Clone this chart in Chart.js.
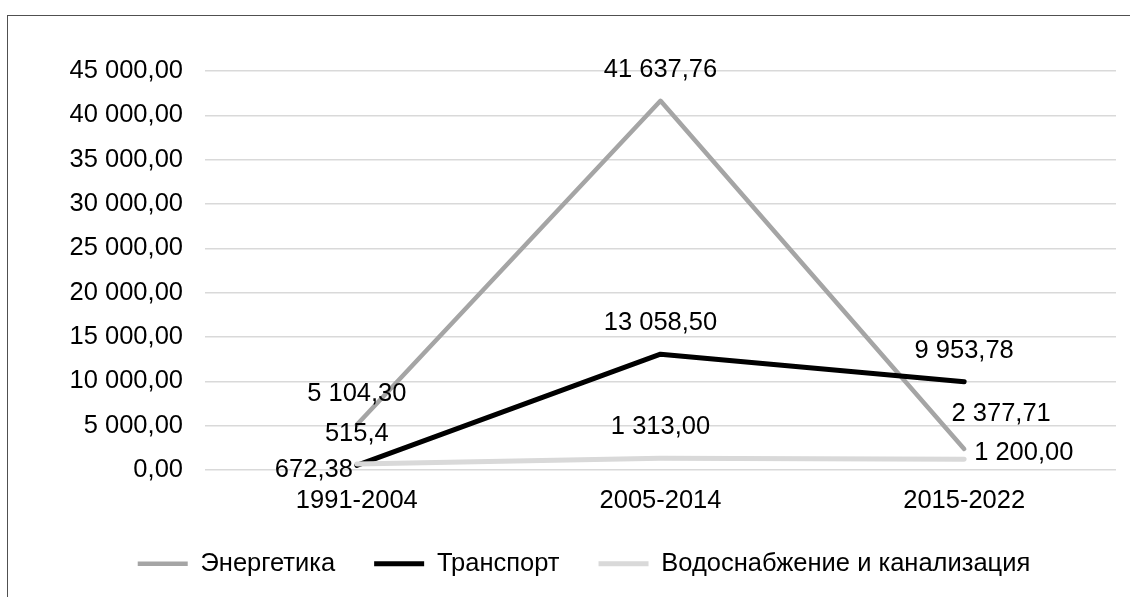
<!DOCTYPE html>
<html lang="ru">
<head>
<meta charset="UTF-8">
<title>Инвестиции по отраслям</title>
<script src="https://cdn.jsdelivr.net/npm/chart.js"></script>
<style>
    html, body {
        margin: 0;
        padding: 0;
        background: #ffffff;
        overflow: hidden;
    }
    /* outer frame of the chart, cut by the window on the right and bottom */
    .frame {
        position: absolute;
        left: 7px;
        top: 15px;
        width: 1200px;
        height: 700px;
        border: 1.5px solid #505050;
    }
    .wrap {
        position: absolute;
        left: 0;
        top: 0;
        width: 1130px;
        height: 597px;
    }
</style>
</head>
<body>
<div class="frame"></div>
<div class="wrap"><canvas id="chart"></canvas></div>

<script>
// data
const periods = ['1991-2004', '2005-2014', '2015-2022'];
const energyValues = [5104.30, 41637.76, 2377.71];
const transportValues = [515.4, 13058.50, 9953.78];
const waterValues = [672.38, 1313.00, 1200.00];
const seriesNames = ['Энергетика', 'Транспорт', 'Водоснабжение и канализация'];
const transportDecimals = [1, 2, 2];
const yMax = 45000;
const yStep = 5000;

const FONT = '"Liberation Sans", Arial, sans-serif';
const FONT_SIZE = 25.5;

function fmt(v, d) {
    const parts = v.toFixed(d).split('.');
    const intPart = parts[0].replace(/\B(?=(\d{3})+(?!\d))/g, ' ');
    return parts[1] ? intPart + ',' + parts[1] : intPart;
}

// where each data label sits relative to its point
const labelPlacement = [
    ['above', 'above', 'aboveRight'],
    ['above', 'above', 'above'],
    ['left', 'above', 'right']
];

const dataLabels = {
    id: 'dataLabels',
    afterDatasetsDraw(chart) {
        const ctx = chart.ctx;
        ctx.save();
        ctx.font = FONT_SIZE + 'px ' + FONT;
        ctx.fillStyle = '#000';
        ctx.textBaseline = 'middle';
        chart.data.datasets.forEach((ds, i) => {
            const meta = chart.getDatasetMeta(i);
            meta.data.forEach((pt, j) => {
                const dec = ds.decimals ? ds.decimals[j] : 2;
                const text = fmt(ds.data[j], dec);
                const place = labelPlacement[i][j];
                let x = pt.x, y = pt.y;
                if (place === 'above') {
                    ctx.textAlign = 'center'; y -= 31;
                } else if (place === 'aboveRight') {
                    ctx.textAlign = 'center'; x += 37; y -= 35;
                } else if (place === 'left') {
                    ctx.textAlign = 'right'; x -= 4; y += 6;
                } else {
                    ctx.textAlign = 'left'; x += 10; y -= 6;
                }
                ctx.fillText(text, x, y);
            });
        });
        ctx.restore();
    }
};

const ctx = document.getElementById('chart').getContext('2d');

new Chart(ctx, {
    type: 'line',
    data: {
        labels: periods,
        datasets: [
            {
                label: seriesNames[0],
                data: energyValues,
                borderColor: '#a5a5a5',
                backgroundColor: '#a5a5a5',
                borderWidth: 4.5,
                order: 3
            },
            {
                label: seriesNames[1],
                data: transportValues,
                decimals: transportDecimals,
                borderColor: '#000000',
                backgroundColor: '#000000',
                borderWidth: 5,
                order: 2
            },
            {
                label: seriesNames[2],
                data: waterValues,
                borderColor: '#d9d9d9',
                backgroundColor: '#d9d9d9',
                borderWidth: 5,
                order: 1
            }
        ]
    },
    options: {
        responsive: true,
        maintainAspectRatio: false,
        animation: false,
        datasets: {
            line: {
                pointRadius: 0,
                tension: 0,
                borderCapStyle: 'round',
                borderJoinStyle: 'round'
            }
        },
        layout: {
            padding: { left: 52, right: 14, top: 71, bottom: 10.5 }
        },
        scales: {
            x: {
                offset: true,
                grid: { display: false, drawTicks: false },
                border: { display: false },
                ticks: {
                    color: '#000',
                    padding: 16,
                    font: { family: FONT, size: FONT_SIZE }
                },
                afterFit(scale) { scale.height = 42; }
            },
            y: {
                min: 0,
                max: yMax,
                grid: { color: '#d9d9d9', lineWidth: 1.5, drawTicks: false },
                border: { display: false },
                ticks: {
                    stepSize: yStep,
                    color: '#000',
                    padding: 22,
                    font: { family: FONT, size: FONT_SIZE },
                    callback: (v) => fmt(v, 2)
                },
                afterFit(scale) { scale.width = 153; }
            }
        },
        plugins: {
            tooltip: { enabled: false },
            legend: {
                position: 'bottom',
                labels: {
                    usePointStyle: true,
                    pointStyle: 'line',
                    pointStyleWidth: 50,
                    padding: 39,
                    color: '#000',
                    font: { family: FONT, size: FONT_SIZE },
                    sort: (a, b) => a.datasetIndex - b.datasetIndex
                }
            }
        }
    },
    plugins: [dataLabels]
});
</script>
</body>
</html>
